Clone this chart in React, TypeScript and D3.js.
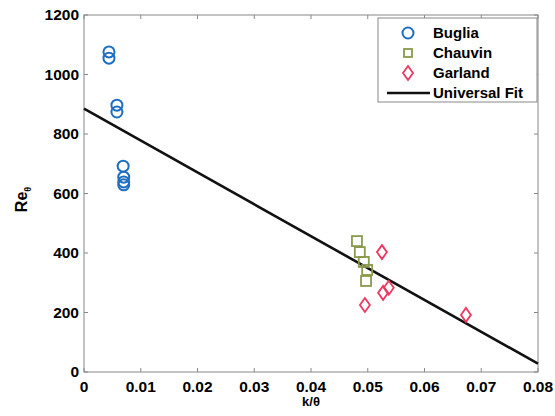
import React from "react";
import * as d3 from "d3";

const xTicks = [0, 0.01, 0.02, 0.03, 0.04, 0.05, 0.06, 0.07, 0.08];
const yTicks = [0, 200, 400, 600, 800, 1000, 1200];

const bugliaX = [0.0044, 0.0044, 0.0058, 0.0058, 0.0069, 0.007, 0.007, 0.007];
const bugliaY = [1076, 1055, 897, 874, 692, 655, 639, 629];

const chauvinX = [0.0481, 0.0486, 0.0493, 0.0499, 0.0497];
const chauvinY = [440, 403, 370, 343, 306];

const garlandX = [0.0525, 0.0527, 0.0537, 0.0495, 0.0673];
const garlandY = [403, 266, 283, 225, 192];

const fitX = [0, 0.08];
const fitY = [885, 28];

const W = 555, H = 416;
const M = { left: 84, right: 538, top: 15, bottom: 372 };

export default function App() {
  const x = d3.scaleLinear().domain([0, 0.08]).range([M.left, M.right]);
  const y = d3.scaleLinear().domain([0, 1200]).range([M.bottom, M.top]);
  const font = "'Liberation Sans', Arial, sans-serif";
  const blue = "#1f6fc0";
  const green = "#8b9a4c";
  const red = "#ec3a62";
  const line = d3.line<number>().x((d, i) => x(fitX[i])).y((d, i) => y(fitY[i]));
  const diamond = (cx: number, cy: number) => `M${cx},${cy - 7} L${cx + 5},${cy} L${cx},${cy + 7} L${cx - 5},${cy} Z`;
  const legendRows = [
    { label: "Buglia", type: "c" },
    { label: "Chauvin", type: "s" },
    { label: "Garland", type: "d" },
    { label: "Universal Fit", type: "l" },
  ];
  return (
    <svg width={W} height={H} style={{ position: "absolute", left: 0, top: 0, background: "#fff" }}>
      <rect x={M.left} y={M.top} width={M.right - M.left} height={M.bottom - M.top} fill="none" stroke="#888" strokeWidth={1} />
      {xTicks.map((t, i) => (
        <g key={"x" + i}>
          <line x1={x(t)} x2={x(t)} y1={M.bottom} y2={M.bottom - 4} stroke="#888" />
          <line x1={x(t)} x2={x(t)} y1={M.top} y2={M.top + 4} stroke="#888" />
          <text x={x(t)} y={M.bottom + 20} textAnchor="middle" fontFamily={font} fontWeight="bold" fontSize={15.5}>{t === 0 ? "0" : t.toFixed(2)}</text>
        </g>
      ))}
      {yTicks.map((t, i) => (
        <g key={"y" + i}>
          <line x1={M.left} x2={M.left + 4} y1={y(t)} y2={y(t)} stroke="#888" />
          <line x1={M.right} x2={M.right - 4} y1={y(t)} y2={y(t)} stroke="#888" />
          <text x={M.left - 5} y={y(t) + 5} textAnchor="end" fontFamily={font} fontWeight="bold" fontSize={15.5}>{t}</text>
        </g>
      ))}
      <text x={(M.left + M.right) / 2} y={406} textAnchor="middle" fontFamily={font} fontWeight="bold" fontSize={13}>k/θ</text>
      <g transform={`translate(27, ${(M.top + M.bottom) / 2 + 6}) rotate(-90)`}>
        <text textAnchor="middle" fontFamily={font} fontWeight="bold" fontSize={16}>
          Re<tspan fontSize={9} dy={4}>θ</tspan>
        </text>
      </g>
      <path d={line(fitX) || ""} fill="none" stroke="#111" strokeWidth={2.6} />
      {bugliaX.map((v, i) => (
        <circle key={"b" + i} cx={x(v)} cy={y(bugliaY[i])} r={5.5} fill="none" stroke={blue} strokeWidth={2} />
      ))}
      {chauvinX.map((v, i) => (
        <rect key={"c" + i} x={x(v) - 5} y={y(chauvinY[i]) - 5} width={10} height={10} fill="none" stroke={green} strokeWidth={1.8} />
      ))}
      {garlandX.map((v, i) => (
        <path key={"g" + i} d={diamond(x(v), y(garlandY[i]))} fill="none" stroke={red} strokeWidth={1.8} />
      ))}
      <rect x={378} y={18} width={159} height={84} fill="#fff" stroke="#888" strokeWidth={1} />
      {legendRows.map((r, i) => {
        const cy = 33 + i * 20;
        const mx = 408;
        return (
          <g key={"l" + i}>
            {r.type === "c" && <circle cx={mx} cy={cy} r={5.5} fill="none" stroke={blue} strokeWidth={2} />}
            {r.type === "s" && <rect x={mx - 4} y={cy - 4} width={8} height={8} fill="none" stroke={green} strokeWidth={1.8} />}
            {r.type === "d" && <path d={diamond(mx, cy)} fill="none" stroke={red} strokeWidth={1.8} />}
            {r.type === "l" && <line x1={387} x2={430} y1={cy} y2={cy} stroke="#111" strokeWidth={2.6} />}
            <text x={433} y={cy + 5} fontFamily={font} fontWeight="bold" fontSize={15}>{r.label}</text>
          </g>
        );
      })}
    </svg>
  );
}
